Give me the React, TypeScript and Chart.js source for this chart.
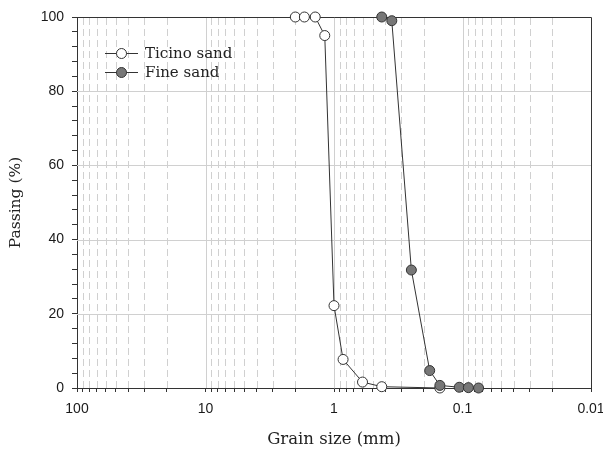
import React, { useEffect, useRef } from 'react';
import { Chart, registerables } from 'chart.js';

Chart.register(...registerables);

// Grain size (mm) and percent passing
const ticinoSize = [2.0, 1.7, 1.4, 1.18, 1.0, 0.85, 0.6, 0.425, 0.15];
const ticinoPassing = [100, 100, 100, 95, 22.2, 7.7, 1.6, 0.35, 0];
const fineSize = [0.425, 0.355, 0.25, 0.18, 0.15, 0.106, 0.09, 0.075];
const finePassing = [100, 99, 31.8, 4.7, 0.7, 0.2, 0.1, 0];

const seriesNames = ['Ticino sand', 'Fine sand'];
const decadeTicks = [100, 10, 1, 0.1, 0.01];
const decadeLabels = ['100', '10', '1', '0.1', '0.01'];
const minorMultipliers = [2, 3, 4, 5, 6, 7, 8, 9];
const yMajorTicks = [0, 20, 40, 60, 80, 100];
const yMinorStep = 4;

const LINE = '#333333';
const GRID = '#d0d0d0';
const FILL_TICINO = '#ffffff';
const FILL_FINE = '#777777';
const SERIF = '"DejaVu Serif", serif';
const SANS = '"Liberation Sans", Arial, sans-serif';

const xMinorTicks: number[] = [];
decadeTicks.slice(1).forEach((d) => minorMultipliers.forEach((m) => xMinorTicks.push(+(d * m).toPrecision(6))));
const xAllTicks = [...decadeTicks, ...xMinorTicks].sort((a, b) => a - b);
const yAllTicks: number[] = [];
for (let v = 0; v <= 100; v += yMinorStep) yAllTicks.push(v);

const decadeIndex = (v: number) => decadeTicks.findIndex((d) => Math.abs(d - v) / d < 1e-6);

const gridFramePlugin = {
  id: 'gridFrame',
  beforeDatasetsDraw(chart: any) {
    const { ctx, chartArea, scales } = chart;
    const { left, right, top, bottom } = chartArea;
    const x = scales.x;
    const y = scales.y;
    ctx.save();
    ctx.strokeStyle = GRID;
    ctx.lineWidth = 1;
    ctx.setLineDash([7, 4]);
    xMinorTicks.forEach((v) => {
      const px = Math.round(x.getPixelForValue(v)) + 0.5;
      if (px <= left + 1 || px >= right - 1) return;
      ctx.beginPath();
      ctx.moveTo(px, bottom);
      ctx.lineTo(px, top);
      ctx.stroke();
    });
    ctx.setLineDash([]);
    decadeTicks.forEach((v) => {
      const px = Math.round(x.getPixelForValue(v)) + 0.5;
      if (px <= left + 1 || px >= right - 1) return;
      ctx.beginPath();
      ctx.moveTo(px, bottom);
      ctx.lineTo(px, top);
      ctx.stroke();
    });
    yMajorTicks.forEach((v) => {
      const py = Math.round(y.getPixelForValue(v)) + 0.5;
      if (py <= top + 1 || py >= bottom - 1) return;
      ctx.beginPath();
      ctx.moveTo(left, py);
      ctx.lineTo(right, py);
      ctx.stroke();
    });
    ctx.strokeStyle = LINE;
    ctx.beginPath();
    ctx.moveTo(Math.round(left), Math.round(top) + 0.5);
    ctx.lineTo(Math.round(right) + 0.5, Math.round(top) + 0.5);
    ctx.lineTo(Math.round(right) + 0.5, Math.round(bottom));
    ctx.stroke();
    ctx.restore();
  },
  afterDraw(chart: any) {
    const { ctx, chartArea } = chart;
    const lx = chartArea.left + 28;
    const ly = chartArea.top + 36;
    const fills = [FILL_TICINO, FILL_FINE];
    ctx.save();
    seriesNames.forEach((name, i) => {
      const yy = ly + i * 19;
      ctx.strokeStyle = LINE;
      ctx.lineWidth = 1;
      ctx.beginPath();
      ctx.moveTo(lx, yy + 0.5);
      ctx.lineTo(lx + 33, yy + 0.5);
      ctx.stroke();
      ctx.beginPath();
      ctx.arc(lx + 16.5, yy + 0.5, 5, 0, Math.PI * 2);
      ctx.fillStyle = fills[i];
      ctx.fill();
      ctx.stroke();
      ctx.fillStyle = '#222';
      ctx.font = '15px ' + SERIF;
      ctx.textBaseline = 'middle';
      ctx.textAlign = 'left';
      ctx.fillText(name, lx + 40, yy + 1);
    });
    ctx.restore();
  },
};

export default function App() {
  const ref = useRef<HTMLCanvasElement | null>(null);
  useEffect(() => {
    if (!ref.current) return;
    const toPts = (xs: number[], ys: number[]) => xs.map((v, i) => ({ x: v, y: ys[i] }));
    const chart = new Chart(ref.current, {
      type: 'line',
      data: {
        datasets: [
          {
            label: seriesNames[1],
            data: toPts(fineSize, finePassing),
            borderColor: LINE,
            borderWidth: 1,
            pointRadius: 5,
            pointBorderWidth: 1,
            pointBackgroundColor: FILL_FINE,
            pointBorderColor: LINE,
            backgroundColor: FILL_FINE,
            clip: false as any,
            tension: 0,
          },
          {
            label: seriesNames[0],
            data: toPts(ticinoSize, ticinoPassing),
            borderColor: LINE,
            borderWidth: 1,
            pointRadius: 5,
            pointBorderWidth: 1,
            pointBackgroundColor: FILL_TICINO,
            pointBorderColor: LINE,
            backgroundColor: FILL_TICINO,
            clip: false as any,
            tension: 0,
          },
        ],
      },
      options: {
        animation: false,
        responsive: false,
        maintainAspectRatio: false,
        layout: { padding: { top: 17, right: 12, left: 0, bottom: 0 } },
        plugins: { legend: { display: false }, tooltip: { enabled: false } },
        scales: {
          x: {
            type: 'logarithmic',
            reverse: true,
            min: 0.01,
            max: 100,
            afterBuildTicks: (s: any) => {
              s.ticks = xAllTicks.map((v) => ({ value: v }));
            },
            afterFit: (s: any) => {
              s.height = 63;
            },
            ticks: {
              autoSkip: false,
              maxRotation: 0,
              padding: 9,
              color: '#1a1a1a',
              font: { family: SANS, size: 14 },
              callback: (v: any) => {
                const i = decadeIndex(Number(v));
                return i >= 0 ? decadeLabels[i] : '';
              },
            },
            grid: { drawOnChartArea: false, drawTicks: true, tickLength: 4, tickColor: LINE },
            border: { display: true, color: LINE, width: 1 },
            title: {
              display: true,
              text: 'Grain size (mm)',
              color: '#222',
              font: { family: SERIF, size: 16.5 },
              padding: { top: 0, bottom: 1 },
            },
          },
          y: {
            type: 'linear',
            min: 0,
            max: 100,
            afterBuildTicks: (s: any) => {
              s.ticks = yAllTicks.map((v) => ({ value: v }));
            },
            afterFit: (s: any) => {
              s.width = 77;
            },
            ticks: {
              autoSkip: false,
              padding: 8,
              color: '#1a1a1a',
              font: { family: SANS, size: 14 },
              callback: (v: any) => (yMajorTicks.includes(Number(v)) ? String(v) : ''),
            },
            grid: { drawOnChartArea: false, drawTicks: true, tickLength: 5, tickColor: LINE },
            border: { display: true, color: LINE, width: 1 },
            title: {
              display: true,
              text: 'Passing (%)',
              color: '#222',
              font: { family: SERIF, size: 15.5 },
              padding: { top: 7, bottom: 0 },
            },
          },
        },
      } as any,
      plugins: [gridFramePlugin],
    });
    return () => chart.destroy();
  }, []);
  return (
    <div style={{ position: 'absolute', left: 0, top: 0, width: 603, height: 451 }}>
      <canvas ref={ref} width={603} height={451} />
    </div>
  );
}
